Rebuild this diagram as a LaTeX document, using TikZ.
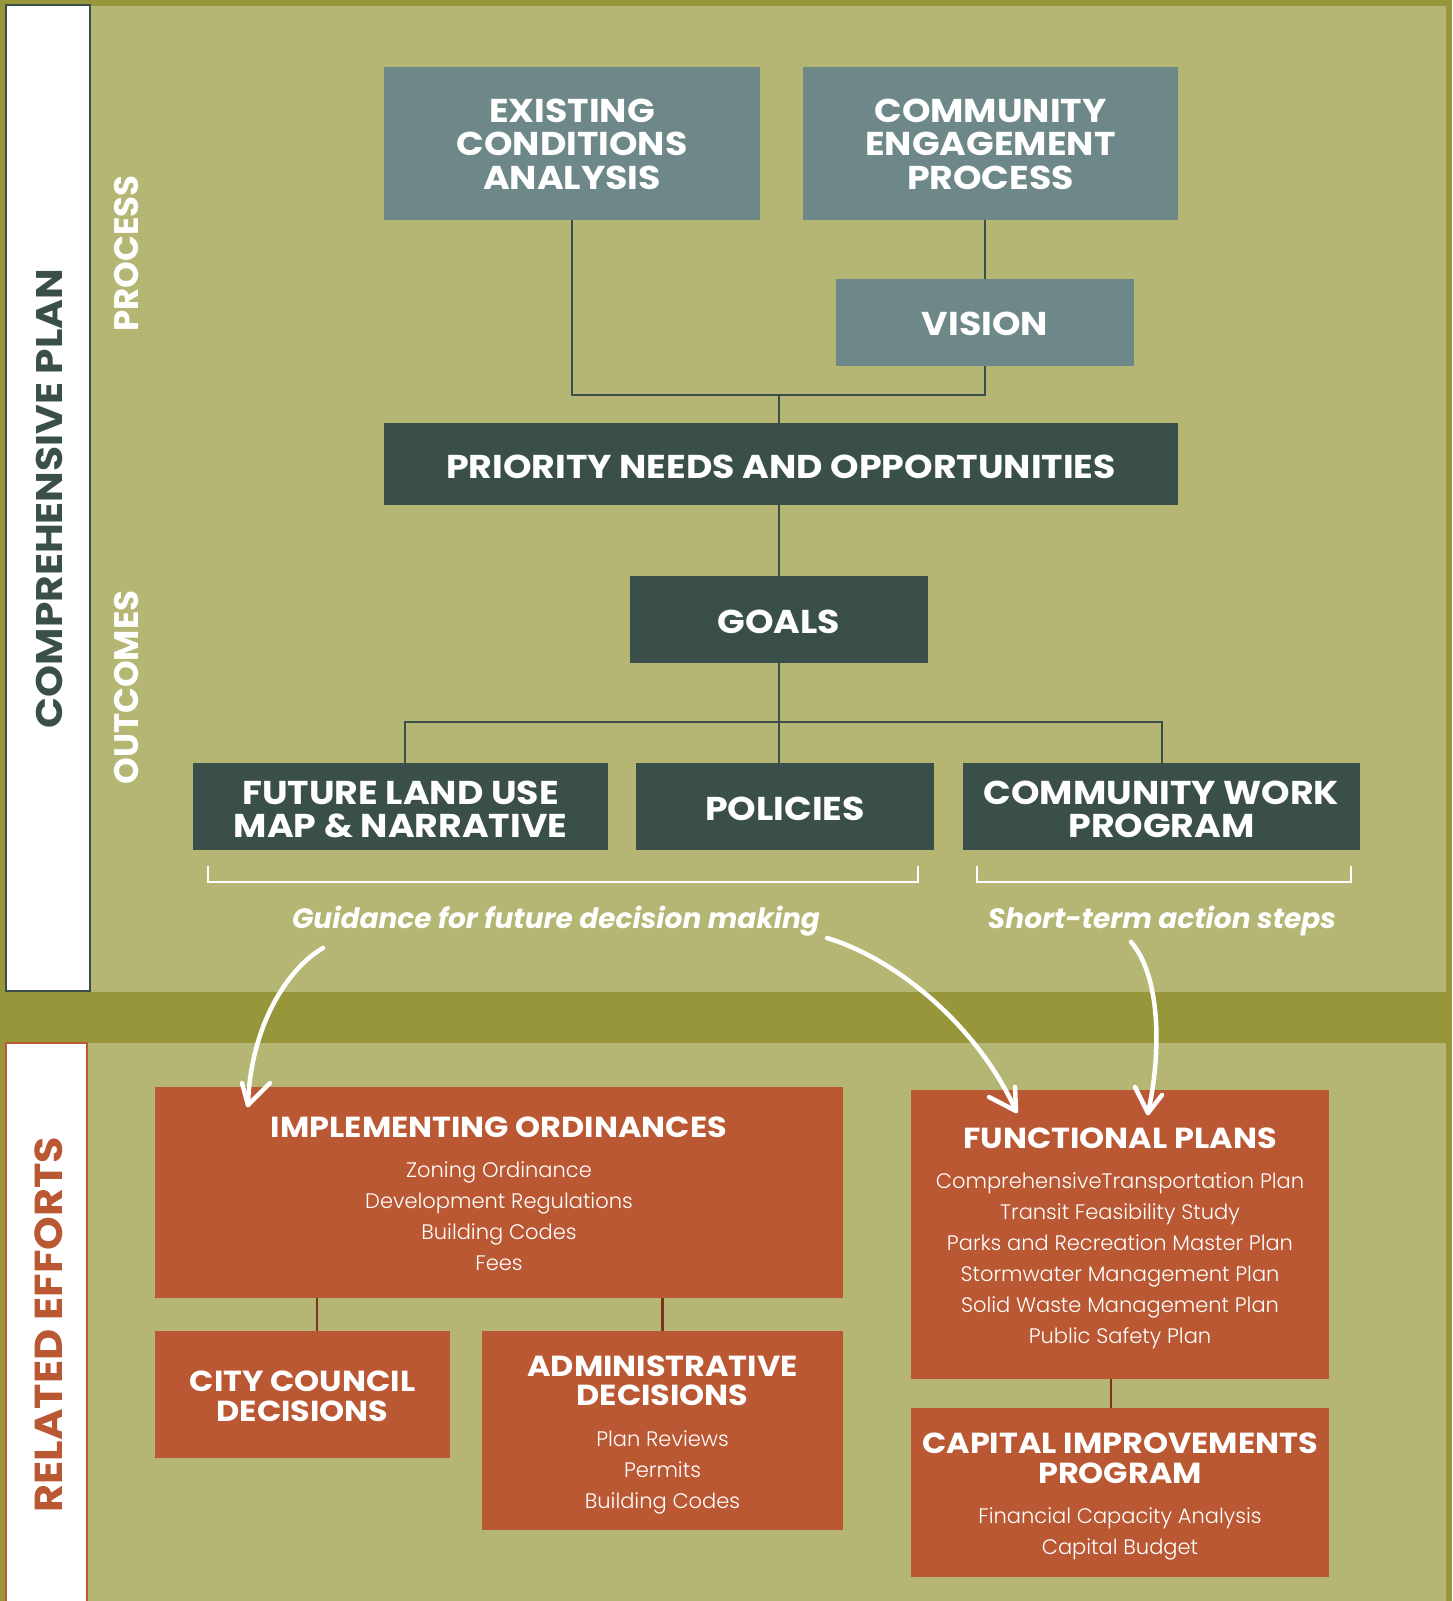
\documentclass[tikz,border=0pt]{standalone}
\usepackage{fontspec}
\newfontfamily\hfont{Poppins}[FakeStretch=1.1]
\newfontfamily\ifont{Poppins}
\newfontfamily\lfont{Poppins Light}
\usetikzlibrary{calc}
\definecolor{olD}{RGB}{151,150,58}
\definecolor{olL}{RGB}{181,182,116}
\definecolor{slate}{RGB}{110,135,136}
\definecolor{dkg}{RGB}{58,79,74}
\definecolor{org}{RGB}{186,88,52}
\definecolor{orgln}{RGB}{125,52,30}
\newcommand\bx[6]{\node[#2, minimum width=#5, minimum height=#6] (#1) at (#3,#4) {};}
\newcommand\txl[6]{\foreach \t [count=\i] in {#6} {\node[#5, anchor=base] (#1\i) at (#2,{#3+(\i-1)*#4}) {\t};}}
\begin{document}
\begin{tikzpicture}[x=1pt,y=-1pt,
  box/.style={inner sep=0, outer sep=0, draw=none},
  gbox/.style={box, fill=slate},
  dbox/.style={box, fill=dkg},
  obox/.style={box, fill=org},
  hd/.style={inner sep=0, text=white, font=\hfont\bfseries\fontsize{33}{33}\selectfont},
  hdo/.style={inner sep=0, text=white, font=\hfont\bfseries\fontsize{29}{29}\selectfont},
  itm/.style={inner sep=0, text=white, font=\lfont\fontsize{21}{21}\selectfont},
  ital/.style={inner sep=0, text=white, font=\ifont\bfseries\itshape\fontsize{28}{28}\selectfont},
  side/.style={inner sep=0, rotate=90, anchor=base, font=\hfont\bfseries\fontsize{37}{37}\selectfont},
  sides/.style={side, text=white, font=\ifont\bfseries\fontsize{34}{34}\selectfont},
  cn/.style={draw=dkg, line width=2},
  cno/.style={draw=orgln, line width=2.5},
  brk/.style={draw=white, line width=2.5},
  arw/.style={draw=white, line width=4.5, line cap=round, line join=round},
]
\useasboundingbox (0,0) rectangle (1452,1601);
\fill[olD] (0,0) rectangle (1452,1601);
\fill[olL] (5,6) rectangle (1446,992);
\fill[olL] (5,1043) rectangle (1446,1601);
\draw[fill=white, draw=dkg, line width=2] (6,5) rectangle (90,991);
\draw[fill=white, draw=org, line width=2] (6,1043) rectangle (87,1610);

\node[side, text=dkg] (lcp) at (62,498.5) {COMPREHENSIVE PLAN};
\node[sides] (lpr) at (138,253.5) {PROCESS};
\node[sides] (lou) at (138,687.5) {OUTCOMES};
\node[side, text=org, font=\hfont\bfseries\fontsize{39}{39}\selectfont] (lre) at (62,1324.5) {RELATED EFFORTS};

% boxes
\bx{eca}{gbox}{572}{143.5}{376}{153}
\bx{cep}{gbox}{990.5}{143.5}{375}{153}
\bx{vis}{gbox}{985}{322.5}{298}{87}
\bx{pri}{dbox}{781}{464}{794}{82}
\bx{gol}{dbox}{779}{619.5}{298}{87}
\bx{flu}{dbox}{400.5}{806.5}{415}{87}
\bx{pol}{dbox}{785}{806.5}{298}{87}
\bx{cwp}{dbox}{1161.5}{806.5}{397}{87}
\bx{imp}{obox}{499}{1192.5}{688}{211}
\bx{ccd}{obox}{302.5}{1394.5}{295}{127}
\bx{adm}{obox}{662.5}{1430.5}{361}{199}
\bx{fpl}{obox}{1120}{1234.5}{418}{289}
\bx{cip}{obox}{1120}{1492.5}{418}{169}

% texts
\txl{teca}{572}{122}{33.5}{hd}{EXISTING,CONDITIONS,ANALYSIS}
\txl{tcep}{990.5}{122}{33.5}{hd}{COMMUNITY,ENGAGEMENT,PROCESS}
\txl{tvis}{985}{335}{0}{hd}{VISION}
\txl{tpri}{781}{478}{0}{hd}{PRIORITY NEEDS AND OPPORTUNITIES}
\txl{tgol}{779}{633}{0}{hd}{GOALS}
\txl{tflu}{400.5}{804}{33}{hd}{FUTURE LAND USE,MAP \& NARRATIVE}
\txl{tpol}{785}{820}{0}{hd}{POLICIES}
\txl{tcwp}{1161.5}{804}{33}{hd}{COMMUNITY WORK,PROGRAM}

\txl{timp}{499}{1137}{0}{hdo}{IMPLEMENTING ORDINANCES}
\txl{iimp}{499}{1177}{31}{itm}{Zoning Ordinance,Development Regulations,Building Codes,Fees}
\txl{tccd}{302.5}{1391}{30}{hdo}{CITY COUNCIL,DECISIONS}
\txl{tadm}{662.5}{1376}{29}{hdo}{ADMINISTRATIVE,DECISIONS}
\txl{iadm}{662.5}{1446}{31}{itm}{Plan Reviews,Permits,Building Codes}
\txl{tfpl}{1120}{1148}{0}{hdo}{FUNCTIONAL PLANS}
\txl{ifpl}{1120}{1188}{31}{itm}{ComprehensiveTransportation Plan,Transit Feasibility Study,Parks and Recreation Master Plan,Stormwater Management Plan,Solid Waste Management Plan,Public Safety Plan}
\txl{tcip}{1120}{1453}{30}{hdo}{CAPITAL IMPROVEMENTS,PROGRAM}
\txl{icip}{1120}{1523}{31}{itm}{Financial Capacity Analysis,Capital Budget}

\node[ital, anchor=base] (gd) at (556,928) {Guidance for future decision making};
\node[ital, anchor=base] (st) at (1162,928) {Short-term action steps};

% connectors
\coordinate (jy) at (0,395);
\coordinate (ky) at (0,722);
\coordinate (fx) at (405,0);
\draw[cn] (eca.south) |- (jy -| vis.south) -- (vis.south);
\draw[cn] (cep.south -| vis.north) -- (vis.north);
\draw[cn] (jy -| gol.north) -- (pri.north -| gol.north);
\draw[cn] (pri.south -| gol.north) -- (gol.north);
\draw[cn] (flu.north -| fx) |- (ky -| cwp.north) -- (cwp.north);
\draw[cn] (gol.south) -- (gol.south |- pol.north);

\coordinate (ox1) at (317,0);
\coordinate (ox3) at (1111,0);
\draw[cno] (imp.south -| ox1) -- (ccd.north -| ox1);
\draw[cno] (imp.south -| adm.north) -- (adm.north);
\draw[cno] (fpl.south -| ox3) -- (cip.north -| ox3);

% brackets
\draw[brk] (208,866) |- (918,882) -- (918,866);
\draw[brk] (977,866) |- (1351,882) -- (1351,866);

% arrows
\coordinate (a1s) at (323,948); \coordinate (a1e) at (248,1105);
\coordinate (a2s) at (827,938); \coordinate (a2e) at (1016,1111);
\coordinate (a3s) at (1131,942); \coordinate (a3e) at (1148,1113);
\draw[arw] (a1s) .. controls (285,970) and (250,1030) .. (a1e);
\draw[arw] ($(a1e)+(-6,-22)$) -- (a1e) -- ($(a1e)+(22,-22)$);
\draw[arw] (a2s) .. controls (900,960) and (980,1030) .. (a2e);
\draw[arw] ($(a2e)+(-27,-14)$) -- (a2e) -- ($(a2e)+(-1,-24)$);
\draw[arw] (a3s) .. controls (1160,975) and (1162,1050) .. (a3e);
\draw[arw] ($(a3e)+(-13,-26)$) -- (a3e) -- ($(a3e)+(14,-18)$);
\end{tikzpicture}
\end{document}
